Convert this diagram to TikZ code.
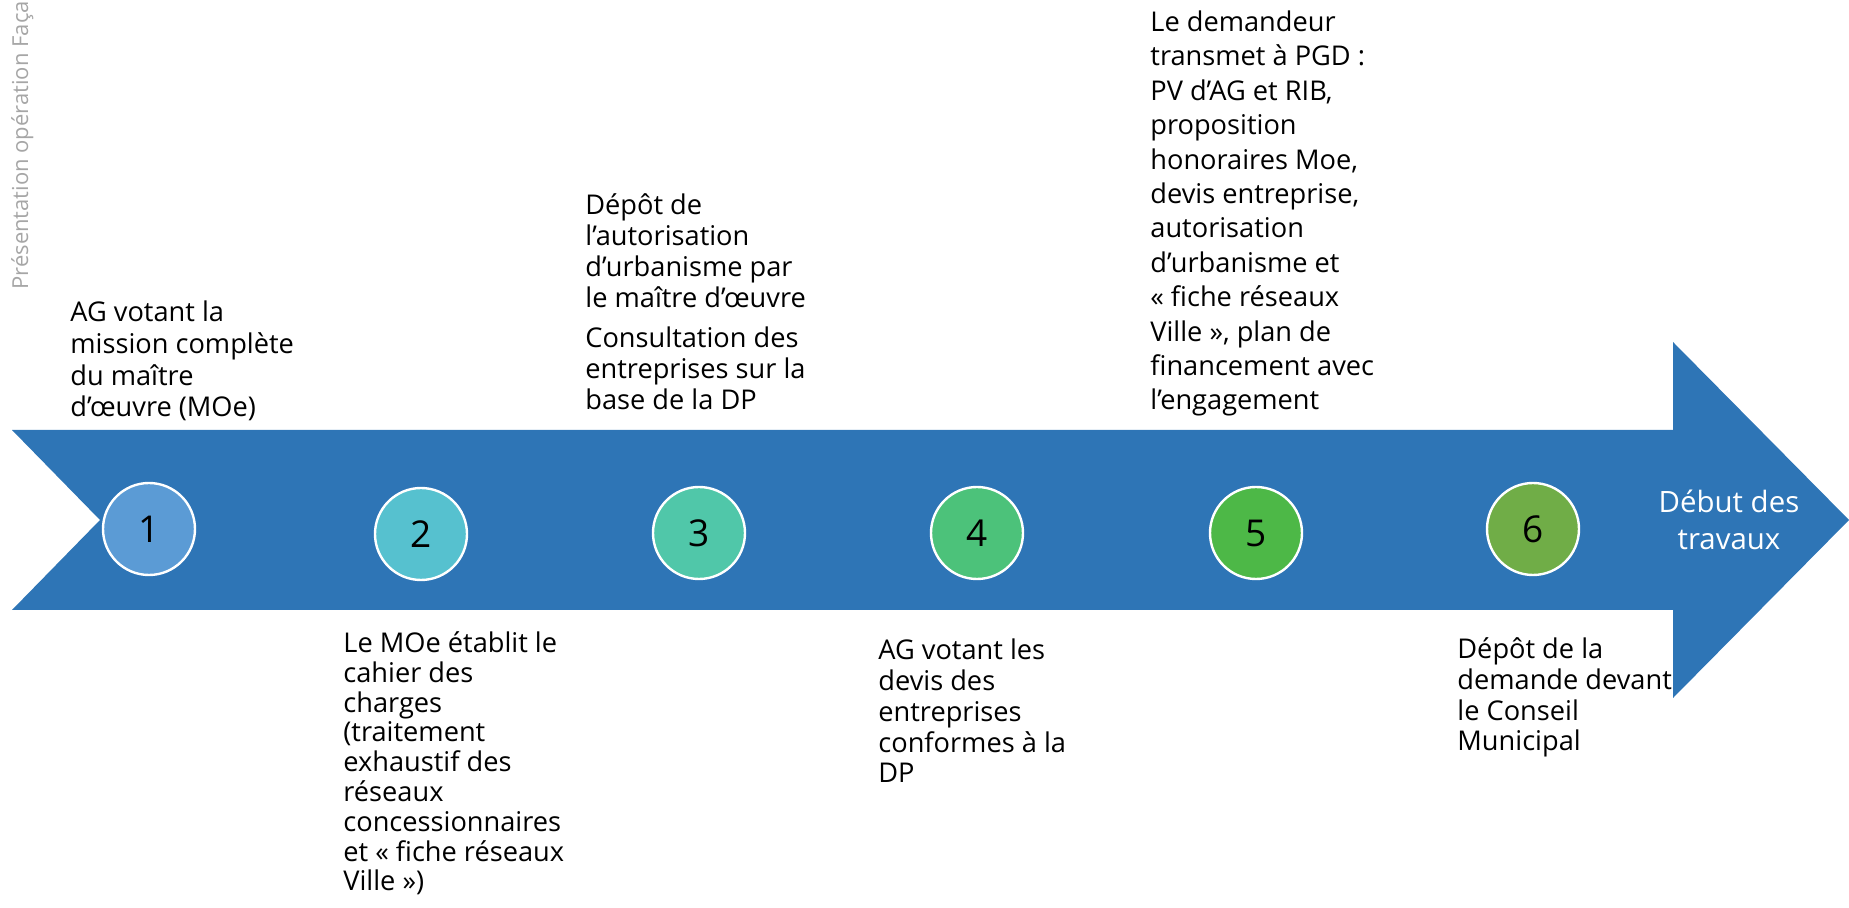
\documentclass[tikz,border=0pt]{standalone}
\usepackage{fontspec}
\setmainfont{Open Sans}
\definecolor{timeline}{HTML}{2E75B6}
\definecolor{dotA}{HTML}{5B9BD5}
\definecolor{dotB}{HTML}{56C1CF}
\definecolor{dotC}{HTML}{50C7A9}
\definecolor{dotD}{HTML}{4CC27A}
\definecolor{dotE}{HTML}{4DB847}
\definecolor{dotF}{HTML}{70AD47}
\definecolor{sidegray}{HTML}{A6A6A6}

\begin{document}
\begin{tikzpicture}
  [x=0.5pt,y=-0.5pt,
   phase dot/.style={circle,draw=white,line width=1.2pt,fill=#1,minimum size=46pt,
                     inner sep=0pt,font=\fontsize{18.5}{20}\selectfont},
   phase text/.style={anchor=base west,align=left,inner sep=0pt,
                      font=\fontsize{13.6}{#1}\selectfont}]

  \useasboundingbox (0,0) rectangle (1849,908);
  \clip (0,0) rectangle (1849,908);

  % the big arrow
  \fill[timeline] (12,430) -- (1673,430) -- (1673,342) -- (1849,520)
    -- (1673,698) -- (1673,610) -- (12,610) -- (100,520) -- cycle;

  \node[rotate=90,anchor=base west,inner sep=0pt,text=sidegray,
        font=\fontsize{11}{13}\selectfont] (side) at (28,290)
        {Présentation opération Façade};

  % steps
  \node[phase dot=dotA] (p1) at (149,529)  {1};
  \node[phase dot=dotB] (p2) at (421,534)  {2};
  \node[phase dot=dotC] (p3) at (699,533)  {3};
  \node[phase dot=dotD] (p4) at (977,533)  {4};
  \node[phase dot=dotE] (p5) at (1256,533) {5};
  \node[phase dot=dotF] (p6) at (1533,529) {6};

  % base = last line
  \node[align=center,anchor=base,inner sep=0pt,text=white,
        font=\fontsize{14.7}{18.5}\selectfont] (end) at (1729,550)
        {Début des\\travaux};

  % texts above (placed by their last line)
  \node[phase text=15.85pt] (t1) at (70,417)
        {AG votant la\\mission complète\\du maître\\d’œuvre (MOe)};
  \node[phase text=15.5pt] (t3) at (585,410)
        {Dépôt de\\l’autorisation\\d’urbanisme par\\le maître d’œuvre\\[4.5pt]
         Consultation des\\entreprises sur la\\base de la DP};
  \node[phase text=17.2pt] (t5) at (1150,410)
        {Le demandeur\\transmet à PGD :\\PV d’AG et RIB,\\proposition\\honoraires Moe,\\
         devis entreprise,\\autorisation\\d’urbanisme et\\« fiche réseaux\\
         Ville », plan de\\financement avec\\l’engagement};

  % texts below
  \node[phase text=14.9pt] (t2) at (343,891)
        {Le MOe établit le\\cahier des\\charges\\(traitement\\exhaustif des\\réseaux\\
         concessionnaires\\et « fiche réseaux\\Ville »)};
  \node[phase text=15.4pt] (t4) at (878,783)
        {AG votant les\\devis des\\entreprises\\conformes à la\\DP};
  \node[phase text=15.4pt] (t6) at (1457,751)
        {Dépôt de la\\demande devant\\le Conseil\\Municipal};
\end{tikzpicture}
\end{document}
